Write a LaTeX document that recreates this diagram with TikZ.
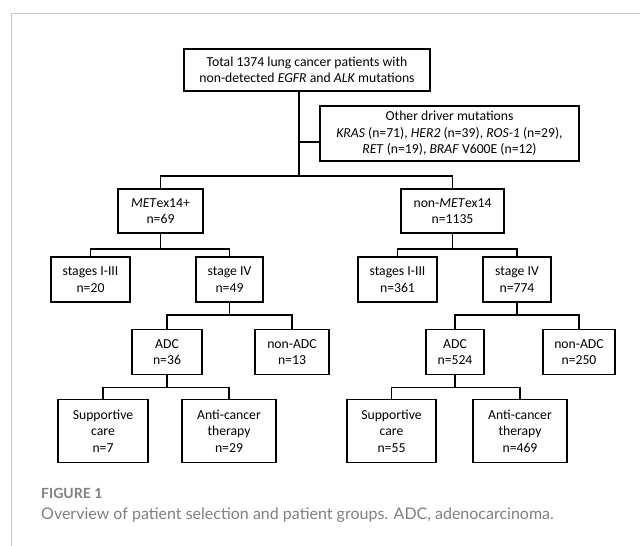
\documentclass[tikz,border=0pt]{standalone}
\usepackage{fontspec}
\setmainfont{Carlito}
\newfontfamily\capfont{Lato}
\definecolor{framegray}{RGB}{200,200,200}
\definecolor{capgray}{RGB}{128,128,128}

\begin{document}
\begin{tikzpicture}[x=1pt,y=-1pt,
  grpbox/.style={draw,line width=1.8pt,align=center,inner sep=0pt,font=\fontsize{13.7}{16.5}\selectfont},
  twoline/.style={grpbox,minimum height=45pt},
  threeline/.style={grpbox,minimum height=63pt},
  link/.style={line width=1.8pt}]
\useasboundingbox (0,0) rectangle (640,546);
\draw[framegray,line width=1pt] (640,13) -- (11,13) -- (11,546);
\node[grpbox,minimum width=246pt,minimum height=42pt] (total) at (307,70) {Total 1374 lung cancer patients with\\non-detected \textit{EGFR} and \textit{ALK} mutations};
\node[grpbox,minimum width=259pt,minimum height=55pt] (driver) at (449.5,133.5) {Other driver mutations\\\textit{KRAS} (n=71), \textit{HER2} (n=39), \textit{ROS-1} (n=29),\\\textit{RET} (n=19), \textit{BRAF} V600E (n=12)};
\node[twoline,minimum width=85pt,minimum height=44pt] (met) at (160.5,211) {\textit{MET}ex14+\\n=69};
\node[twoline,minimum width=103pt,minimum height=44pt] (nonmet) at (452.5,211) {non-\textit{MET}ex14\\n=1135};
\node[twoline,minimum width=79pt] (s13L) at (90.5,279.5) {stages I-III\\n=20};
\node[twoline,minimum width=67pt] (s4L) at (229.5,279.5) {stage IV\\n=49};
\node[twoline,minimum width=79pt] (s13R) at (397.5,279.5) {stages I-III\\n=361};
\node[twoline,minimum width=68pt] (s4R) at (517,279.5) {stage IV\\n=774};
\node[twoline,minimum width=70pt] (adcL) at (167,352) {ADC\\n=36};
\node[twoline,minimum width=74pt] (nadcL) at (292,352) {non-ADC\\n=13};
\node[twoline,minimum width=58pt] (adcR) at (455,352) {ADC\\n=524};
\node[twoline,minimum width=72pt] (nadcR) at (579,352) {non-ADC\\n=250};
\node[threeline,minimum width=90pt] (supL) at (103,431) {Supportive\\care\\n=7};
\node[threeline,minimum width=94pt] (antiL) at (229,431) {Anti-cancer\\therapy\\n=29};
\node[threeline,minimum width=89pt] (supR) at (391.5,431) {Supportive\\care\\n=55};
\node[threeline,minimum width=94pt] (antiR) at (520,431) {Anti-cancer\\therapy\\n=469};
% trunk from the total box
\coordinate (fork) at (299,142);
\coordinate (split) at (299,176);
\draw[link] ([xshift=-8pt]total.south) -- (split);
\draw[link] (fork) -- (fork -| driver.west);
\draw[link] (met.north) |- (split) -| (nonmet.north);
% splits below each group
\foreach \p/\a/\b/\d in {met/s13L/s4L/15,nonmet/s13R/s4R/15,s4L/adcL/nadcL/12,s4R/adcR/nadcR/12,adcL/supL/antiL/12,adcR/supR/antiR/12}
  \draw[link] (\p.south) -- ++(0,\d) coordinate (bus) (\a.north) |- (bus) -| (\b.north);
\node[anchor=west,inner sep=0pt,text=capgray,font=\capfont\bfseries\fontsize{14}{16}\selectfont] (fig) at (41,493) {FIGURE 1};
\node[anchor=west,inner sep=0pt,text=capgray,font=\capfont\fontsize{16}{18}\selectfont] (cap) at (41,515) {Overview of patient selection and patient groups. ADC, adenocarcinoma.};
\end{tikzpicture}
\end{document}
